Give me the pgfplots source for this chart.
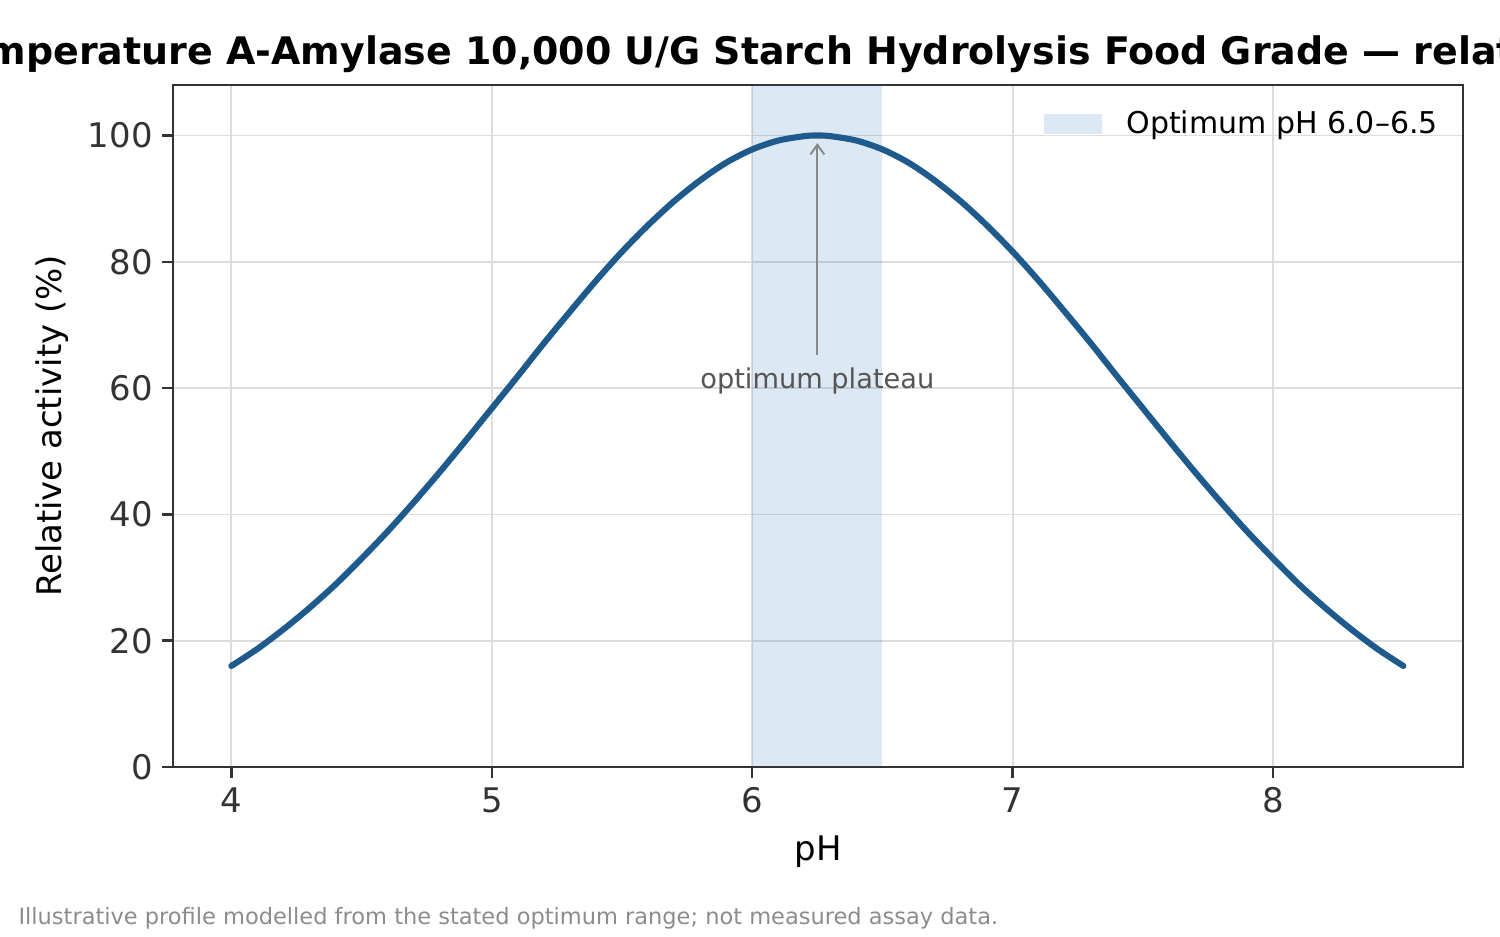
\documentclass[border=0pt]{standalone}
\usepackage{fontspec}
\setmainfont{DejaVu Sans}
\usepackage{pgfplots}
\pgfplotsset{compat=1.18}
\usetikzlibrary{arrows.meta}

\definecolor{curveblue}{RGB}{31,90,140}
\definecolor{bandbase}{RGB}{22,102,175}
\definecolor{gridgray}{RGB}{221,221,221}
\definecolor{axisgray}{RGB}{51,51,51}
\definecolor{annotgray}{RGB}{85,85,85}
\definecolor{arrowgray}{RGB}{136,136,136}
\definecolor{notegray}{RGB}{140,140,140}

\begin{document}
\begin{tikzpicture}
% page frame
\path (0,0) rectangle (540bp,337.32bp);
\begin{axis}[
  scale only axis,
  width=464.4bp, height=245.52bp,
  at={(62.28bp,61.2bp)}, anchor=south west,
  xmin=3.776, xmax=8.729, ymin=0, ymax=108,
  xtick={4,5,6,7,8}, ytick={0,20,40,60,80,100},
  grid=major,
  grid style={draw=gridgray, line width=0.65bp},
  axis line style={draw=axisgray, line width=0.9bp},
  tick style={draw=axisgray, line width=0.9bp},
  tick align=outside, major tick length=3.8bp,
  xtick pos=left, ytick pos=left,
  /pgf/number format/assume math mode=true,
  tick label style={font=\fontsize{12.2bp}{14bp}\selectfont, text=axisgray},
  label style={font=\fontsize{12.2bp}{14bp}\selectfont},
  xlabel={pH},
  ylabel={Relative activity (\%)},
  xlabel style={at={(axis description cs:0.5,-0.1246)}, anchor=center},
  ylabel style={at={(axis description cs:-0.0939,0.5)}, anchor=center},
  legend style={at={(axis description cs:0.9916,0.9794)}, anchor=north east,
    draw=none, fill=none, font=\fontsize{10.8bp}{13bp}\selectfont,
    legend cell align=left},
  legend image code/.code={%
    \fill[bandbase, fill opacity=0.15] (0bp,-3.6bp) rectangle (20.9bp,3.6bp);
    \path (27.7bp,0bp);},
]

% optimum pH band (translucent, so the grid shows through)
\addplot[draw=none, fill=bandbase, fill opacity=0.15]
  coordinates {(6.0,0) (6.0,108) (6.5,108) (6.5,0)};
\addlegendentry{Optimum pH 6.0–6.5}

% relative activity profile
\addplot[curveblue, line width=2.2bp, smooth, line join=round, line cap=round, forget plot]
  coordinates {
  (4.0,16.0) (4.1,18.7) (4.2,21.8) (4.3,25.2) (4.4,28.9) (4.5,33.0)
  (4.6,37.3) (4.7,41.9) (4.8,46.7) (4.9,51.7) (5.0,56.8) (5.1,61.9)
  (5.2,67.1) (5.3,72.1) (5.4,77.0) (5.5,81.6) (5.6,85.8) (5.7,89.6)
  (5.8,92.9) (5.9,95.7) (6.0,97.8) (6.1,99.2) (6.2,99.9) (6.25,100.0)
  (6.3,99.9) (6.4,99.2) (6.5,97.8) (6.6,95.7) (6.7,92.9) (6.8,89.6)
  (6.9,85.8) (7.0,81.6) (7.1,77.0) (7.2,72.1) (7.3,67.1) (7.4,61.9)
  (7.5,56.8) (7.6,51.7) (7.7,46.7) (7.8,41.9) (7.9,37.3) (8.0,33.0)
  (8.1,28.9) (8.2,25.2) (8.3,21.8) (8.4,18.7) (8.5,16.0)
  };

% annotation of the plateau
\draw[arrowgray, line width=0.7bp, -{Straight Barb[length=3.5bp,width=5bp]}]
  (axis cs:6.25,65.2) -- (axis cs:6.25,98.8);
\node[text=annotgray, font=\fontsize{9.8bp}{12bp}\selectfont, anchor=center]
  at (axis cs:6.25,61.2) {optimum plateau};
\end{axis}

% title, wider than the page
\node[overlay, anchor=base west, inner sep=0pt,
  font=\fontsize{13.66bp}{16bp}\selectfont\bfseries]
  at (-61bp,313.92bp)
  {High-Temperature A-Amylase 10,000 U/G Starch Hydrolysis Food Grade — relative activity vs pH};

\node[anchor=west, inner sep=0pt, text=notegray, font=\fontsize{8.1bp}{10bp}\selectfont]
  at (6.48bp,6.84bp) {Illustrative profile modelled from the stated optimum range; not measured assay data.};
\end{tikzpicture}
\end{document}
